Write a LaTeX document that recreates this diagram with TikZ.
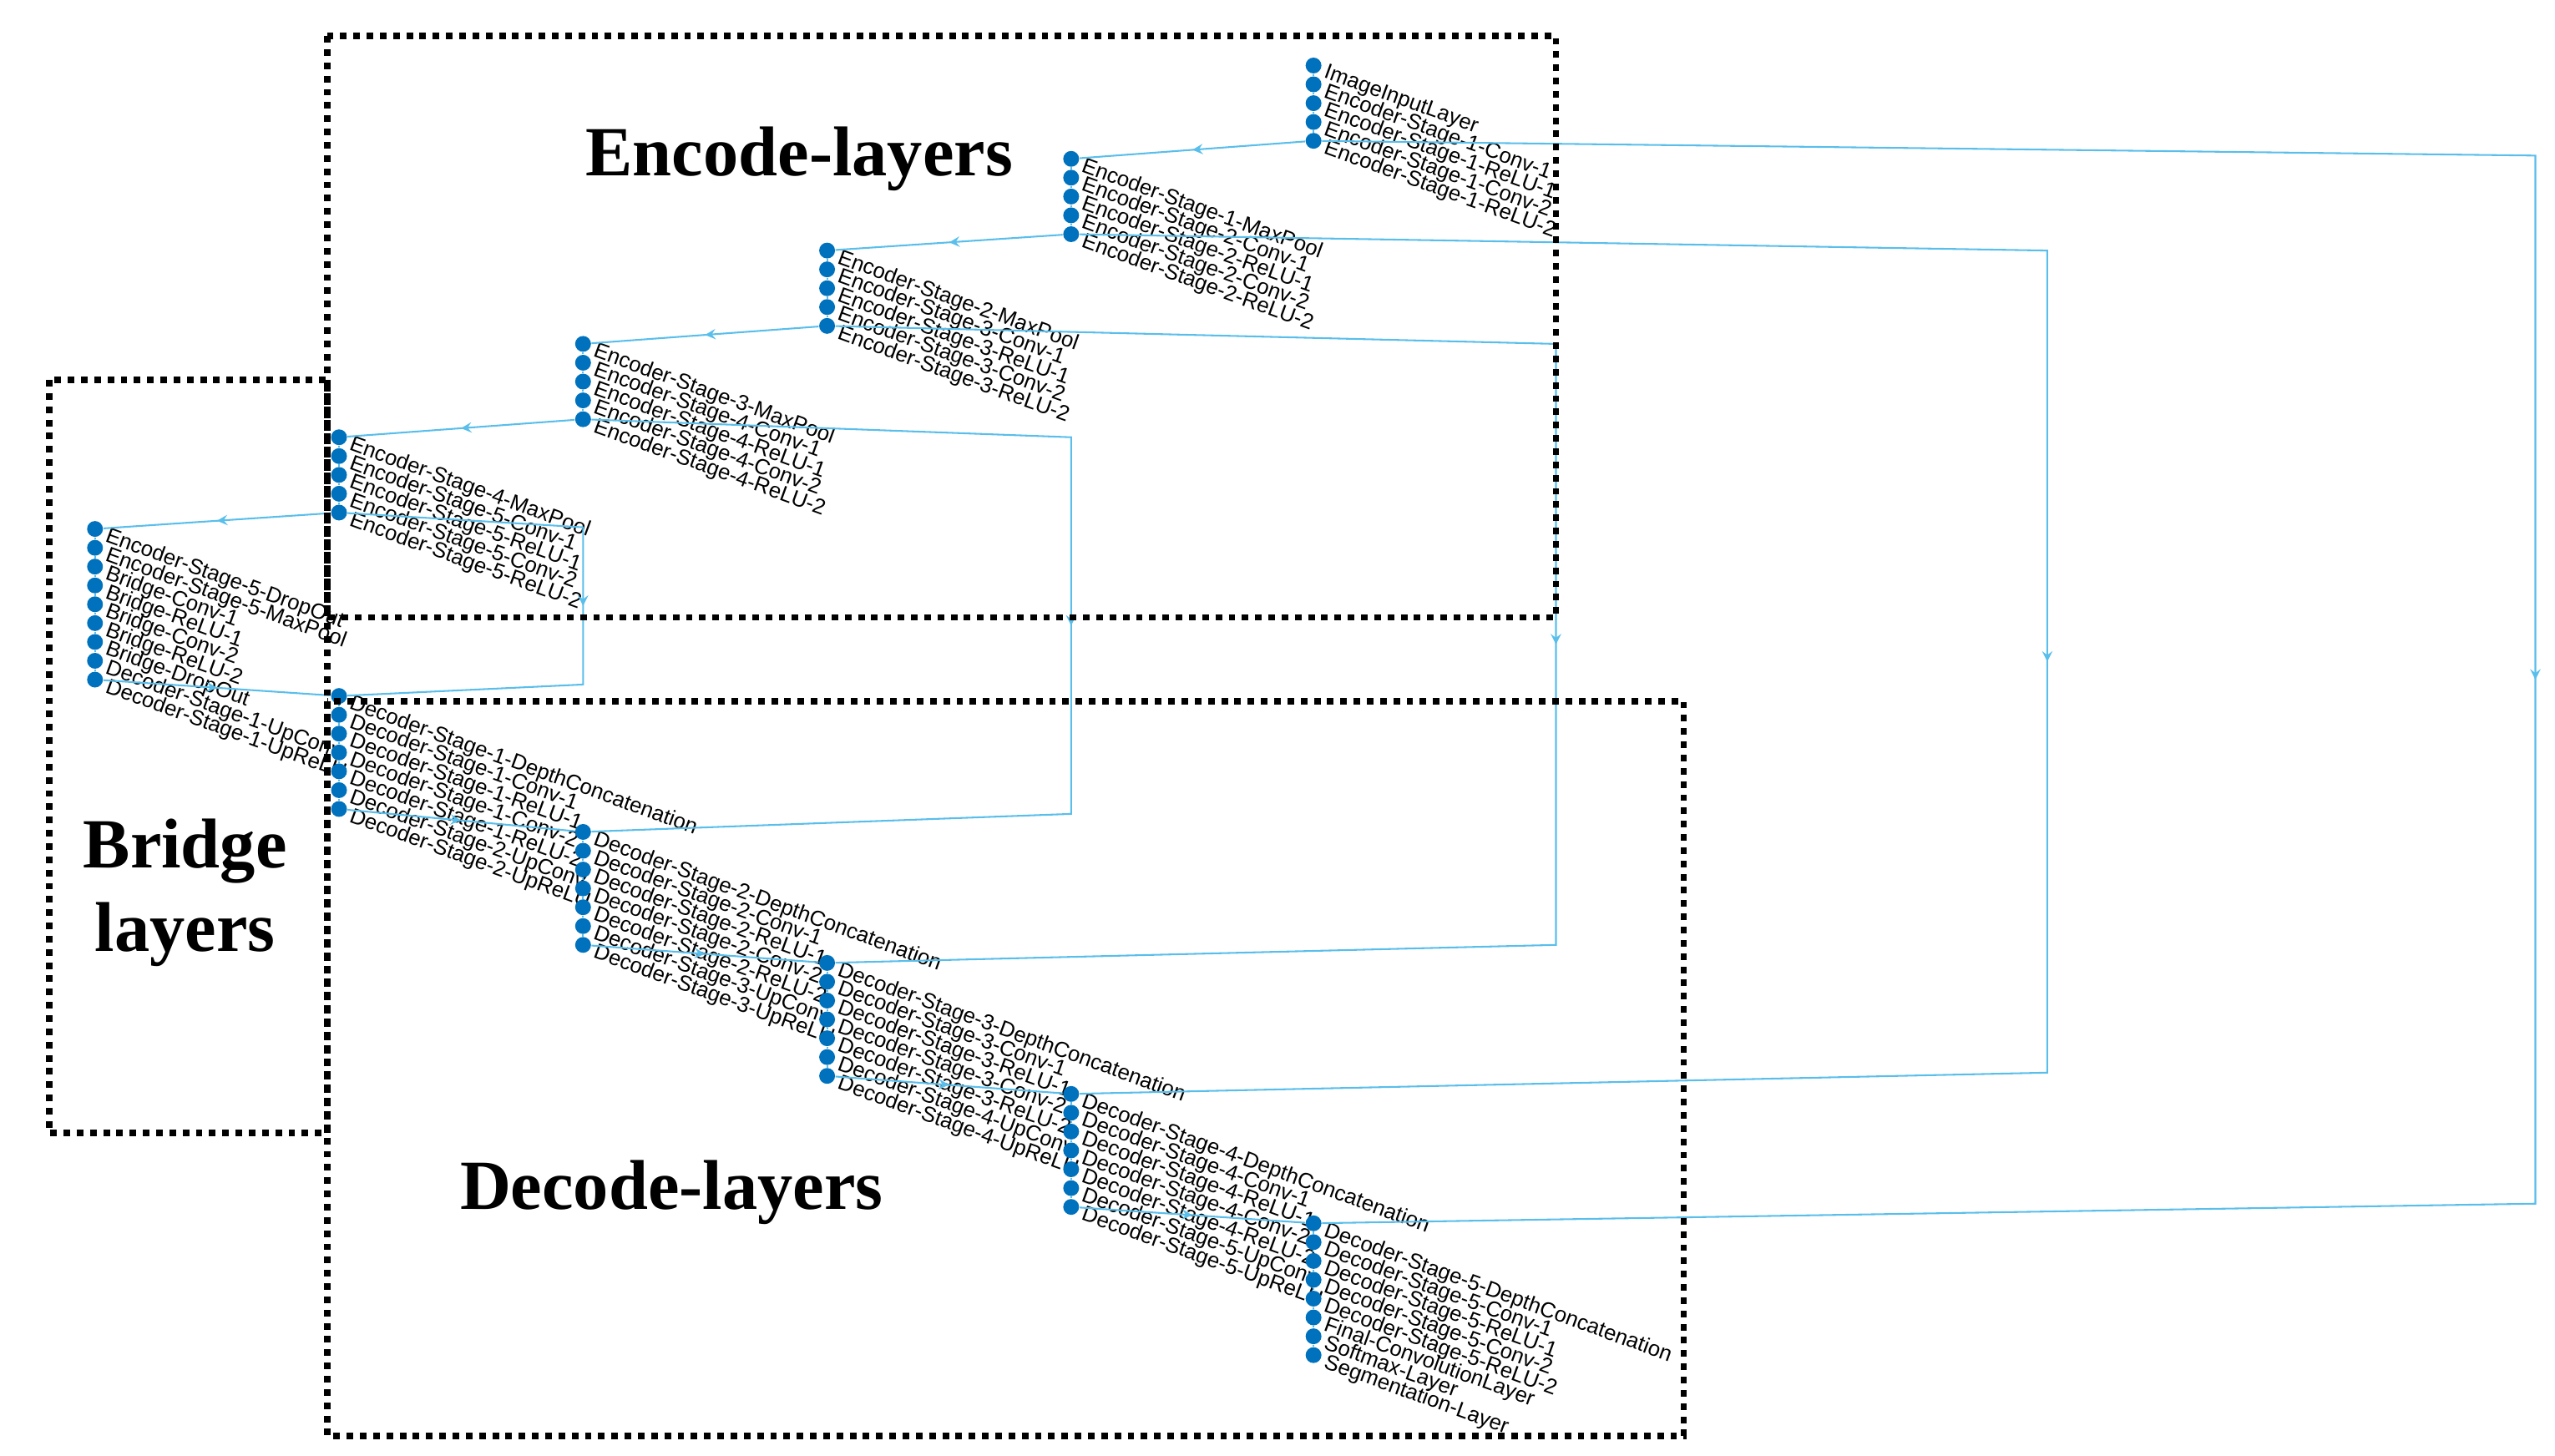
\documentclass[tikz,border=0pt]{standalone}
\usepackage{fontspec}
\setmainfont{Liberation Serif}
\newfontfamily\lblfont{Liberation Sans}
\usetikzlibrary{decorations.markings}
\definecolor{dotblue}{RGB}{0,114,189}
\definecolor{edgeblue}{RGB}{90,190,235}
\begin{document}
\begin{tikzpicture}[x=0.02cm, y=-0.02cm, >=stealth]
        \tikzset{%
         every layer/.style={
            circle,
            fill=dotblue,
            inner sep=0pt,
            minimum size=5.5},
        layer label/.style={
            anchor=north west,
            inner sep=0pt,
            rotate=-20,
            font=\lblfont\fontsize{7.5}{8}\selectfont},
        link/.style={
            draw=edgeblue,
            line width=0.6pt},
        mid arrow/.style={
            link,
            postaction={decorate},
            decoration={markings,
              mark=at position 0.5 with {\arrow[edgeblue]{stealth}}}},
        group box/.style={
            draw=black,
            line width=2.3pt,
            dash pattern=on 2.3pt off 2.3pt},
        group title/.style={
            font=\fontsize{24.5}{29}\selectfont\bfseries,
            align=center},
        }
        \useasboundingbox (0,0) rectangle (1560,889);

        % layer groups, one column each
        \foreach \g/\x/\y/\names in {%
            e1/802/40/{ImageInputLayer,Encoder-Stage-1-Conv-1,Encoder-Stage-1-ReLU-1,Encoder-Stage-1-Conv-2,Encoder-Stage-1-ReLU-2},
            e2/654/97/{Encoder-Stage-1-MaxPool,Encoder-Stage-2-Conv-1,Encoder-Stage-2-ReLU-1,Encoder-Stage-2-Conv-2,Encoder-Stage-2-ReLU-2},
            e3/505/153/{Encoder-Stage-2-MaxPool,Encoder-Stage-3-Conv-1,Encoder-Stage-3-ReLU-1,Encoder-Stage-3-Conv-2,Encoder-Stage-3-ReLU-2},
            e4/356/210/{Encoder-Stage-3-MaxPool,Encoder-Stage-4-Conv-1,Encoder-Stage-4-ReLU-1,Encoder-Stage-4-Conv-2,Encoder-Stage-4-ReLU-2},
            e5/207/267/{Encoder-Stage-4-MaxPool,Encoder-Stage-5-Conv-1,Encoder-Stage-5-ReLU-1,Encoder-Stage-5-Conv-2,Encoder-Stage-5-ReLU-2},
            b/58/323/{Encoder-Stage-5-DropOut,Encoder-Stage-5-MaxPool,Bridge-Conv-1,Bridge-ReLU-1,Bridge-Conv-2,Bridge-ReLU-2,Bridge-DropOut,Decoder-Stage-1-UpConv,Decoder-Stage-1-UpReLU},
            d1/207/425/{Decoder-Stage-1-DepthConcatenation,Decoder-Stage-1-Conv-1,Decoder-Stage-1-ReLU-1,Decoder-Stage-1-Conv-2,Decoder-Stage-1-ReLU-2,Decoder-Stage-2-UpConv,Decoder-Stage-2-UpReLU},
            d2/356/508/{Decoder-Stage-2-DepthConcatenation,Decoder-Stage-2-Conv-1,Decoder-Stage-2-ReLU-1,Decoder-Stage-2-Conv-2,Decoder-Stage-2-ReLU-2,Decoder-Stage-3-UpConv,Decoder-Stage-3-UpReLU},
            d3/505/588/{Decoder-Stage-3-DepthConcatenation,Decoder-Stage-3-Conv-1,Decoder-Stage-3-ReLU-1,Decoder-Stage-3-Conv-2,Decoder-Stage-3-ReLU-2,Decoder-Stage-4-UpConv,Decoder-Stage-4-UpReLU},
            d4/654/668/{Decoder-Stage-4-DepthConcatenation,Decoder-Stage-4-Conv-1,Decoder-Stage-4-ReLU-1,Decoder-Stage-4-Conv-2,Decoder-Stage-4-ReLU-2,Decoder-Stage-5-UpConv,Decoder-Stage-5-UpReLU},
            d5/802/747/{Decoder-Stage-5-DepthConcatenation,Decoder-Stage-5-Conv-1,Decoder-Stage-5-ReLU-1,Decoder-Stage-5-Conv-2,Decoder-Stage-5-ReLU-2,Final-ConvolutionLayer,Softmax-Layer,Segmentation-Layer}}
        {
            \foreach \l [count=\i] in \names
            {
                \node [every layer] (\g-\i) at (\x,\y+11.5*\i-11.5) {};
                \node [layer label] (\g-\i-label) at ([xshift=5,yshift=1]\g-\i.center) {\l};
            }
        }

        % links inside the columns
        \foreach \g/\n in {e1/5,e2/5,e3/5,e4/5,e5/5,b/9,d1/7,d2/7,d3/7,d4/7,d5/8}
        \foreach \i [count=\j from 2] in {1,...,\numexpr\n-1\relax}
            \draw [link] (\g-\i) -- (\g-\j);

        % links between the columns
        \foreach \a/\b in {e1-5/e2-1,e2-5/e3-1,e3-5/e4-1,e4-5/e5-1,e5-5/b-1,
                           b-9/d1-1,d1-7/d2-1,d2-7/d3-1,d3-7/d4-1,d4-7/d5-1}
            \draw [mid arrow] (\a) -- (\b);

        % skip connections
        \foreach \a/\b/\x/\ya/\yb in {e1-5/d5-1/1548/95/735,e2-5/d4-1/1250/153/655,
                                      e3-5/d3-1/950/210/577,e4-5/d2-1/654/267/497,
                                      e5-5/d1-1/356/322/418}
        {
            \coordinate (\a-top) at (\x,\ya);
            \coordinate (\a-bottom) at (\x,\yb);
            \draw [mid arrow] (\a) -- (\a-top) -- (\a-bottom) -- (\b);
        }

        % grouping boxes
        \draw [group box] (200,22) rectangle (950,377);
        \draw [group box] (30,232) rectangle (200,692);
        \draw [group box] (200,428) rectangle (1028,877);

        \node [group title] (encode) at (488,97) {Encode-layers};
        \node [group title] (bridge) at (113,545) {Bridge\\layers};
        \node [group title] (decode) at (410,728) {Decode-layers};
\end{tikzpicture}
\end{document}
